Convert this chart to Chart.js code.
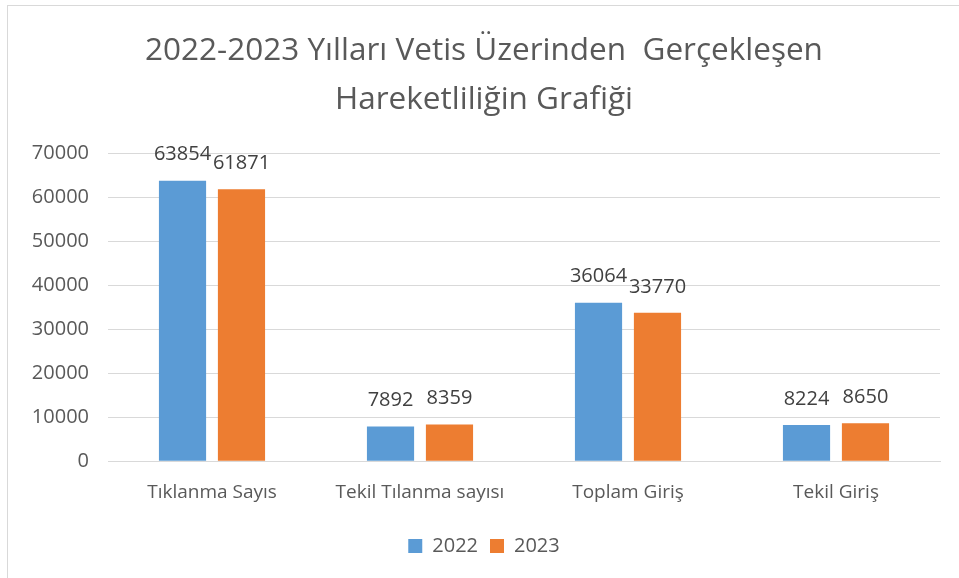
<!DOCTYPE html>
<html>
<head>
<meta charset="utf-8">
<script src="https://cdn.jsdelivr.net/npm/chart.js@4"></script>
<style>
  html, body { margin: 0; padding: 0; background: #ffffff; }
  #wrap { position: absolute; left: 7px; top: 5px; width: 952px; height: 573px; border: 1px solid #d9d9d9; border-right: none; border-bottom: none; box-sizing: border-box; }
  canvas { display: block; }
</style>
</head>
<body>
<div id="wrap"><canvas id="c"></canvas></div>
<script>
const categories = ["Tıklanma Sayıs", "Tekil Tılanma sayısı", "Toplam Giriş", "Tekil Giriş"];
const seriesNames = ["2022", "2023"];
const values2022 = [63854, 7892, 36064, 8224];
const values2023 = [61871, 8359, 33770, 8650];
const yTicks = [0, 10000, 20000, 30000, 40000, 50000, 60000, 70000];
const titleLines = ["2022-2023 Yılları Vetis Üzerinden  Gerçekleşen", "Hareketliliğin Grafiği"];

const FONT = "'Open Sans', sans-serif";
const TXT = "#595959";

const labelPlugin = {
  id: "valueLabels",
  afterDatasetsDraw(chart) {
    const ctx = chart.ctx;
    ctx.save();
    ctx.font = "20px " + FONT;
    ctx.fillStyle = "#404040";
    ctx.textAlign = "center";
    ctx.textBaseline = "middle";
    chart.data.datasets.forEach((ds, i) => {
      chart.getDatasetMeta(i).data.forEach((bar, j) => {
        ctx.fillText(String(ds.data[j]), bar.x, bar.y - 26);
      });
    });
    ctx.restore();
  }
};

new Chart(document.getElementById("c"), {
  type: "bar",
  data: {
    labels: categories,
    datasets: [
      { label: seriesNames[0], data: values2022, backgroundColor: "#5b9bd5" },
      { label: seriesNames[1], data: values2023, backgroundColor: "#ed7d31" }
    ]
  },
  options: {
    responsive: true,
    maintainAspectRatio: false,
    animation: false,
    layout: { padding: { left: 20, right: 19, top: 11, bottom: 12 } },
    datasets: { bar: { categoryPercentage: 0.567, barPercentage: 0.8 } },
    plugins: {
      title: {
        display: true,
        text: titleLines,
        color: TXT,
        font: { family: FONT, size: 31.5, weight: "normal", lineHeight: 1.55 },
        padding: { top: 10, bottom: 29 }
      },
      legend: {
        position: "bottom",
        labels: {
          color: TXT,
          font: { family: FONT, size: 20 },
          boxWidth: 14, boxHeight: 14, padding: 12
        }
      },
      tooltip: { enabled: false }
    },
    scales: {
      x: {
        grid: { display: false, drawTicks: false },
        border: { display: true, color: "#d9d9d9", width: 1 },
        ticks: { color: TXT, font: { family: FONT, size: 19 }, padding: 20 }
      },
      y: {
        min: 0, max: 70000,
        afterBuildTicks(axis) { axis.ticks = yTicks.map(v => ({ value: v })); },
        afterFit(axis) { axis.width = 80; },
        grid: { color: "#d9d9d9", lineWidth: 1, drawTicks: false },
        border: { display: false },
        ticks: { color: TXT, font: { family: FONT, size: 20 }, padding: 19, callback: v => String(v) }
      }
    }
  },
  plugins: [labelPlugin]
});
</script>
</body>
</html>
